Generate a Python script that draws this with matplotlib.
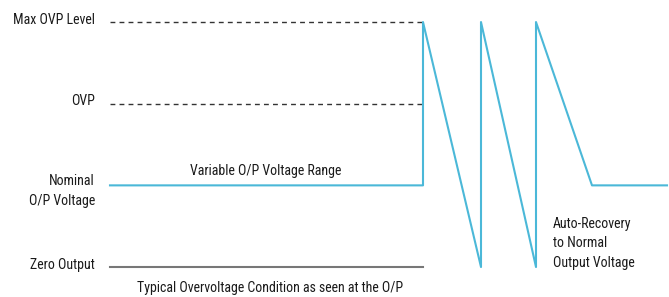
import matplotlib.pyplot as plt
from matplotlib import font_manager

# levels: 0 = zero output, 1 = nominal, 2 = OVP, 3 = max OVP
level_names = ["Zero Output", "Nominal\nO/P Voltage", "OVP", "Max OVP Level"]
level_values = [0, 1, 2, 3]

# output voltage trace (time, level)
trace_t = [110, 423, 423, 481, 481, 536, 536, 592, 667]
trace_v = [1, 1, 3, 0, 3, 0, 3, 1, 1]

# reference lines drawn up to the trip point
ref_start, ref_end = 110, 423

# a condensed face if one is around, else a plain sans at a smaller size
names = set(f.name for f in font_manager.fontManager.ttflist)
choices = [("Liberation Sans Narrow", 10), ("DejaVu Sans Condensed", 9.2),
           ("Roboto Condensed", 10), ("Roboto", 9.2)]
fam, fs = "Liberation Sans", 9
for n, s in choices:
    if n in names:
        fam, fs = n, s
        break
plt.rcParams["font.family"] = [fam, "DejaVu Sans"]

fig = plt.figure(figsize=(6.69, 2.97), dpi=100)
ax = fig.add_axes([0, 0, 1, 1])
ax.set_xlim(0, 669)
ax.set_ylim(-0.367, 3.27)
ax.axis("off")

cyan = "#4bb8d8"
txt = "#1a1a1a"

ax.plot([ref_start, ref_end], [3, 3], ls=(0, (3.5, 3)), color="#333333", lw=1)
ax.plot([ref_start, ref_end], [2, 2], ls=(0, (3.5, 3)), color="#333333", lw=1)
ax.plot([ref_start, ref_end], [0, 0], color="#777777", lw=1.5)
ax.plot(trace_t, trace_v, color=cyan, lw=1.5)

for name, v in zip(level_names, level_values):
    dy = -0.07 if "\n" in name else 0.03
    ax.text(95, v + dy, name, ha="right", va="center", fontsize=fs,
            color=txt, linespacing=1.5, multialignment="right")

ax.text(266, 1.17, "Variable O/P Voltage Range", ha="center", va="center",
        fontsize=fs, color=txt)
ax.text(270, -0.26, "Typical Overvoltage Condition as seen at the O/P",
        ha="center", va="center", fontsize=fs, color=txt)
ax.text(553, 0.29, "Auto-Recovery\nto Normal\nOutput Voltage", ha="left",
        va="center", fontsize=fs, color=txt, linespacing=1.5)

fig.savefig("out.png", dpi=100)
